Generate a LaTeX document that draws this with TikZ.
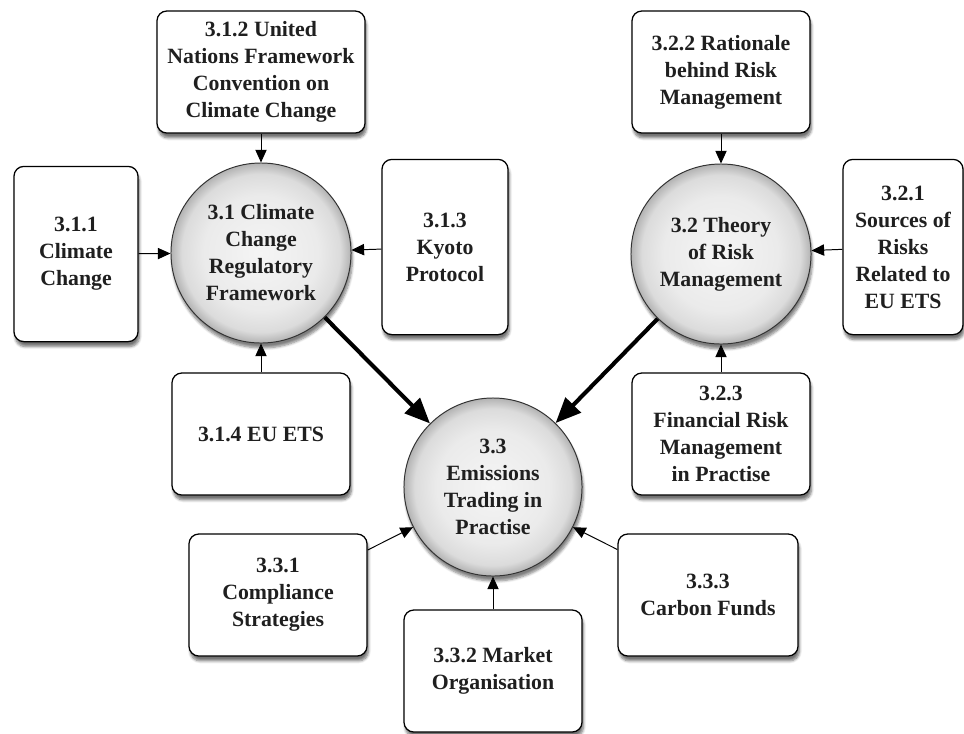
\documentclass[tikz,border=0pt]{standalone}
\usepackage{fontspec}
\setmainfont{Liberation Serif}
\usetikzlibrary{arrows.meta,shadows.blur}
\pgfdeclareradialshading{orb}{\pgfpoint{0bp}{0bp}}{color(0bp)=(black!4); color(16bp)=(black!8); color(22bp)=(black!14); color(25bp)=(black!30); color(50bp)=(black!30)}
\tikzset{
    label font/.style={font=\fontsize{15.5}{19.2}\selectfont\bfseries, text=black!88, align=center},
    topic/.style={draw, fill=white, rounded corners=7pt, line width=0.9pt, inner sep=2pt,
        minimum width=4.45cm, minimum height=3.05cm, label font,
        blur shadow={shadow xshift=1pt, shadow yshift=-3.5pt, shadow blur steps=6, shadow opacity=55}},
    tall/.style={minimum width=3.1cm, minimum height=4.38cm},
    theme/.style={circle, draw=black!80, line width=0.7pt, minimum size=4.5cm, inner sep=0pt,
        shading=orb, label font,
        blur shadow={shadow xshift=1pt, shadow yshift=-3.5pt, shadow blur steps=6, shadow opacity=50}},
    feed/.style={draw, line width=0.7pt, -{Triangle[length=9pt, width=8pt]}},
    flow/.style={draw, line width=2.9pt, -{Triangle[length=18pt, width=15pt]}}
}
\begin{document}
\begin{tikzpicture}[x=0.025cm, y=-0.025cm]
        \useasboundingbox (0,0) rectangle (964,733);
        % main themes
        \begin{scope}[every node/.style={theme}]
            \node (31) at (261,253) {3.1 Climate\\Change\\Regulatory\\Framework};
            \node (32) at (721,254) {3.2 Theory\\of Risk\\Management};
            \node (33) [minimum size=4.45cm] at (493,487) {3.3\\Emissions\\Trading in\\Practise};
        \end{scope}
        % sub topics
        \begin{scope}[every node/.style={topic}]
            \node (311) [tall] at (76,254) {3.1.1\\Climate\\Change};
            \node (312) [minimum width=5.2cm] at (261,72) {3.1.2 United\\Nations Framework\\Convention on\\Climate Change};
            \node (313) [tall, minimum width=3.15cm] at (445,247) {3.1.3\\Kyoto\\Protocol};
            \node (314) at (261,434) {3.1.4 EU ETS};
            \node (321) [tall, minimum width=3.0cm] at (903,247) {3.2.1\\Sources of\\Risks\\Related to\\EU ETS};
            \node (322) at (721,72) {3.2.2 Rationale\\behind Risk\\Management};
            \node (323) at (721,434) {3.2.3\\Financial Risk\\Management\\in Practise};
            \node (331) at (278,595) {3.3.1\\Compliance\\Strategies};
            \node (332) at (493,671) {3.3.2 Market\\Organisation};
            \node (333) [minimum width=4.5cm] at (708,595) {3.3.3\\Carbon Funds};
        \end{scope}
        \path
            (311) edge [feed] (31)
            (312) edge [feed] (31)
            (313) edge [feed] (31)
            (314) edge [feed] (31)
            (321) edge [feed] (32)
            (322) edge [feed] (32)
            (323) edge [feed] (32)
            (331) edge [feed] (33)
            (332) edge [feed] (33)
            (333) edge [feed] (33)
            (31) edge [flow] (33)
            (32) edge [flow] (33);
    \end{tikzpicture}
\end{document}
